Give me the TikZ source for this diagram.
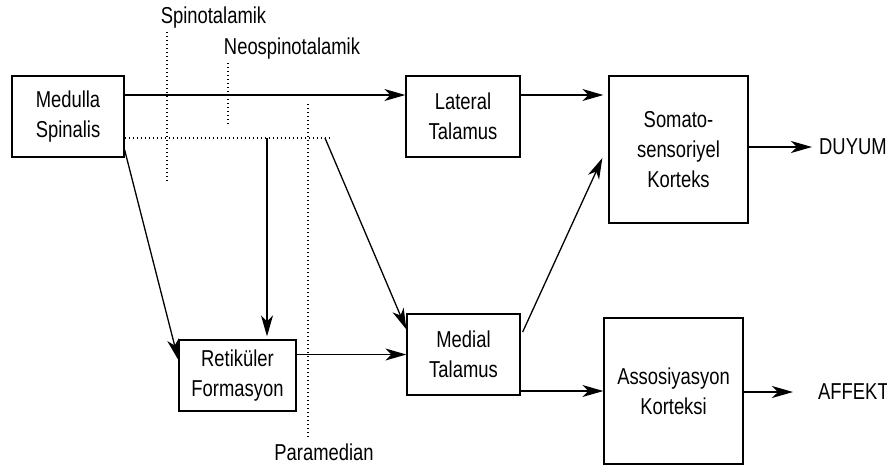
\documentclass[tikz,border=0pt]{standalone}
\usepackage{fontspec}
\setmainfont{Liberation Sans}[FakeStretch=0.8]
\usetikzlibrary{arrows.meta,calc}
\begin{document}
\begin{tikzpicture}[x=1pt,y=-1pt,
  box/.style={draw,line width=1.3pt,align=center,inner sep=0pt,font=\fontsize{23}{30}\selectfont},
  lbl/.style={inner sep=0pt,font=\fontsize{23}{30}\selectfont},
  arr/.style={line width=1.3pt,-{Stealth[length=21pt,width=12pt,inset=6pt]}},
  dot/.style={line width=1.1pt,dash pattern=on 1pt off 3pt}]
\useasboundingbox (0,0) rectangle (887,467);
% boxes
\node[box,minimum width=112pt,minimum height=81pt] (med) at (68,116.5) {Medulla\\Spinalis};
\node[box,minimum width=114pt,minimum height=81pt] (lat) at (463,116.5) {Lateral\\Talamus};
\node[box,minimum width=139pt,minimum height=147pt] (som) at (678.5,149.5) {Somato-\\sensoriyel\\Korteks};
\node[box,minimum width=117pt,minimum height=71pt] (ret) at (237.5,375.5) {Retiküler\\Formasyon};
\node[box,minimum width=113pt,minimum height=81pt] (mdl) at (463.5,354.5) {Medial\\Talamus};
\node[box,minimum width=139pt,minimum height=146pt] (ass) at (673.5,391) {Assosiyasyon\\Korteksi};
% outputs
\node[lbl,anchor=west] (duyum) at (819,147) {DUYUM};
\node[lbl,anchor=west] (affekt) at (818,392) {AFFEKT};
% tract labels
\node[lbl] (spino) at (213.5,18) {Spinotalamik};
\node[lbl] (neo) at (292,49) {Neospinotalamik};
\node[lbl] (para) at (324,452) {Paramedian};
% coordinates
\coordinate (j1) at (267,138);
\coordinate (j2) at (325,138);
\coordinate (hend) at (330,138);
\coordinate (s1) at (167,32);
\coordinate (s2) at (167,184);
\coordinate (n1) at (228,63);
\coordinate (n2) at (228,124);
\coordinate (p1) at (308,104);
\coordinate (p2) at (308,437);
% dotted lines
\draw[dot] ([yshift=-21.5pt]med.east) -- (hend);
\draw[dot] (s1) -- (s2);
\draw[dot] (n1) -- (n2);
\draw[dot] (p1) -- (p2);
% arrows
\draw[arr] ([yshift=21.5pt]med.east) -- ([yshift=21.5pt]lat.west);
\draw[arr] ([yshift=21.5pt]lat.east) -- ([xshift=-5pt,yshift=54.5pt]som.west);
\draw[arr] ([yshift=2.5pt]som.east) -- ([xshift=-7pt]duyum.west);
\draw[arr] (ass.east |- affekt.west) -- ([xshift=-25pt]affekt.west);
\draw[arr] (mdl.east |- ass.west) -- (ass.west);
\draw[arr] (ret.east |- mdl.west) -- (mdl.west);
\draw[arr] ([xshift=2pt,yshift=22.5pt]mdl.east) -- ([xshift=-6pt,yshift=-8.5pt]som.west);
\draw[arr] ([yshift=-33.5pt]med.east) -- ([yshift=15.5pt]ret.west);
\draw[arr] (j1) -- ([yshift=3pt]j1 |- ret.north);
\draw[arr] (j2) -- ([yshift=-16pt]mdl.north west);
\end{tikzpicture}
\end{document}
